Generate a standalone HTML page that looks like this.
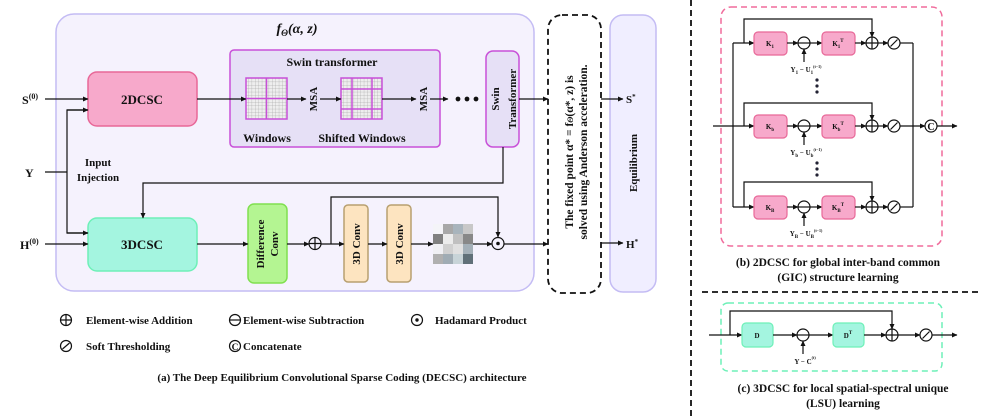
<!DOCTYPE html>
<html><head><meta charset="utf-8"><style>
html,body{margin:0;padding:0;background:#fff;}
svg{display:block;}
text{font-family:"Liberation Serif",serif;font-weight:bold;fill:#111;}
</style></head><body>
<svg width="997" height="419" viewBox="0 0 997 419" xmlns="http://www.w3.org/2000/svg">
<defs>
<marker id="a" markerWidth="6" markerHeight="6" refX="5" refY="3" orient="auto" markerUnits="userSpaceOnUse"><path d="M0,0.5 L5.5,3 L0,5.5 z" fill="#111"/></marker>
<pattern id="g" width="3.4" height="3.4" patternUnits="userSpaceOnUse"><rect width="3.4" height="3.4" fill="#eee"/><path d="M0,0 H3.4 M0,0 V3.4" stroke="#999" stroke-width="0.5"/></pattern>
</defs>
<g stroke="#111" stroke-width="1.2" fill="none">
<rect x="56" y="14" width="478" height="277" rx="18" fill="#f5f2fd" stroke="#c4bcf4" stroke-width="1.5"/>
<rect x="548" y="15" width="53" height="278" rx="14" stroke-dasharray="6,4" stroke-width="1.8"/>
<rect x="610" y="15" width="46" height="277" rx="13" fill="#f0eeff" stroke="#c4bcf4" stroke-width="1.5"/>
<line x1="691" y1="0" x2="691" y2="419" stroke-dasharray="6,4" stroke-width="1.8"/>
<line x1="702" y1="292" x2="982" y2="292" stroke-dasharray="6,4" stroke-width="1.8"/>

<rect x="88" y="72" width="109" height="54" rx="9" fill="#f7a9cb" stroke="#e86898" stroke-width="1.5"/>
<rect x="88" y="218" width="109" height="53" rx="9" fill="#a4f5e0" stroke="#6ef0b8" stroke-width="1.5"/>
<rect x="230" y="50" width="210" height="97" rx="4" fill="#e6e0f6" stroke="#c850d8" stroke-width="1.5"/>
<rect x="486" y="51" width="33" height="96" rx="7" fill="#e6e0f6" stroke="#c850d8" stroke-width="1.5"/>
<rect x="248" y="204" width="39" height="79" rx="6" fill="#b4f592" stroke="#80e050" stroke-width="1.5"/>
<rect x="344" y="205" width="24" height="77" rx="4" fill="#fde4c0" stroke="#b8a070" stroke-width="1.5"/>
<rect x="387" y="205" width="24" height="77" rx="4" fill="#fde4c0" stroke="#b8a070" stroke-width="1.5"/>

<rect x="246" y="78" width="41" height="41" fill="url(#g)" stroke="#c850d8" stroke-width="1.5"/>
<path d="M266.5,78 V119 M246,98.5 H287" stroke="#c850d8" stroke-width="1.5"/>
<rect x="341" y="78" width="41" height="41" fill="url(#g)" stroke="#c850d8" stroke-width="1.5"/>
<path d="M352,78 V119 M372,78 V119 M341,89 H382 M341,109 H382" stroke="#c850d8" stroke-width="1.5"/>

<g stroke="none">
<rect x="433" y="224" width="10" height="10" fill="#f4f4f8"/><rect x="443" y="224" width="10" height="10" fill="#a8a8a8"/><rect x="453" y="224" width="10" height="10" fill="#a8b4bc"/><rect x="463" y="224" width="10" height="10" fill="#c8c8c8"/>
<rect x="433" y="234" width="10" height="10" fill="#808080"/><rect x="443" y="234" width="10" height="10" fill="#ececec"/><rect x="453" y="234" width="10" height="10" fill="#c0c0c0"/><rect x="463" y="234" width="10" height="10" fill="#888"/>
<rect x="433" y="244" width="10" height="10" fill="#f0f0f4"/><rect x="443" y="244" width="10" height="10" fill="#d0d0d0"/><rect x="453" y="244" width="10" height="10" fill="#e0e0e0"/><rect x="463" y="244" width="10" height="10" fill="#a4b0b8"/>
<rect x="433" y="254" width="10" height="10" fill="#b0b0b0"/><rect x="443" y="254" width="10" height="10" fill="#a0acb4"/><rect x="453" y="254" width="10" height="10" fill="#c8d4d8"/><rect x="463" y="254" width="10" height="10" fill="#607078"/>
</g>

<line x1="45" y1="99" x2="88" y2="99" marker-end="url(#a)"/>
<line x1="45" y1="172" x2="67" y2="172"/>
<path d="M88,110 H67 V233 H88" />
<line x1="67" y1="110" x2="88" y2="110" marker-end="url(#a)"/>
<line x1="67" y1="233" x2="88" y2="233" marker-end="url(#a)"/>
<line x1="45" y1="244" x2="88" y2="244" marker-end="url(#a)"/>
<line x1="197" y1="99" x2="246" y2="99" marker-end="url(#a)"/>
<line x1="287" y1="99" x2="306" y2="99" marker-end="url(#a)"/>
<line x1="320" y1="99" x2="341" y2="99" marker-end="url(#a)"/>
<line x1="382" y1="99" x2="416" y2="99" marker-end="url(#a)"/>
<line x1="430" y1="99" x2="448" y2="99" marker-end="url(#a)"/>
<circle cx="458" cy="99" r="1.8" fill="#111"/><circle cx="467" cy="99" r="1.8" fill="#111"/><circle cx="476" cy="99" r="1.8" fill="#111"/>
<line x1="519" y1="99" x2="548" y2="99" marker-end="url(#a)"/>
<path d="M503,147 V183 H143 V218" marker-end="url(#a)"/>
<line x1="197" y1="244" x2="248" y2="244" marker-end="url(#a)"/>
<line x1="287" y1="244" x2="309" y2="244" marker-end="url(#a)"/>
<circle cx="315" cy="243.5" r="6"/><path d="M309,243.5 H321 M315,237.5 V249.5"/>
<line x1="321" y1="244" x2="344" y2="244" marker-end="url(#a)"/>
<path d="M331,244 V197 H498 V237" marker-end="url(#a)"/>
<line x1="368" y1="244" x2="387" y2="244" marker-end="url(#a)"/>
<line x1="411" y1="244" x2="433" y2="244" marker-end="url(#a)"/>
<line x1="473" y1="244" x2="492" y2="244" marker-end="url(#a)"/>
<circle cx="498" cy="243.5" r="6"/><circle cx="498" cy="243.5" r="1.2" fill="#111"/>
<line x1="504" y1="244" x2="548" y2="244" marker-end="url(#a)"/>
<line x1="601" y1="99" x2="623" y2="99" marker-end="url(#a)"/>
<line x1="601" y1="243" x2="623" y2="243" marker-end="url(#a)"/>

<circle cx="66" cy="320" r="5.5"/><path d="M60.5,320 H71.5 M66,314.5 V325.5"/>
<circle cx="235" cy="320" r="5.5"/><path d="M229.5,320 H240.5"/>
<circle cx="417" cy="320" r="5.5"/><circle cx="417" cy="320" r="1.1" fill="#111"/>
<circle cx="66" cy="346" r="5.5"/><path d="M62.5,349 L66,346 L69.5,343" />
<circle cx="235" cy="346" r="5.5"/>

<rect x="721" y="7" width="221" height="239" rx="10" stroke="#f06c9c" stroke-dasharray="6,4" stroke-width="1.5"/>
<path d="M713,126 H733 M733,43 V207 M913,43 V207"/>
<path d="M733,43 H754" marker-end="url(#a)"/>
<path d="M744,43 V19 H872 V37" marker-end="url(#a)"/>
<rect x="754" y="32" width="33" height="23" rx="4" fill="#f7a9cb" stroke="#e86898"/>
<line x1="787" y1="43" x2="798" y2="43" marker-end="url(#a)"/>
<circle cx="804" cy="43" r="6"/><path d="M798,43 H810"/>
<line x1="804" y1="62" x2="804" y2="49" marker-end="url(#a)"/>
<line x1="810" y1="43" x2="822" y2="43" marker-end="url(#a)"/>
<rect x="822" y="32" width="33" height="23" rx="4" fill="#f7a9cb" stroke="#e86898"/>
<line x1="855" y1="43" x2="866" y2="43" marker-end="url(#a)"/>
<circle cx="872" cy="43" r="6"/><path d="M866,43 H878 M872,37 V49"/>
<line x1="878" y1="43" x2="888" y2="43" marker-end="url(#a)"/>
<circle cx="894" cy="43" r="6"/><path d="M890.5,46.5 L897.5,39.5"/>
<line x1="900" y1="43" x2="913" y2="43"/>
<path d="M733,126 H754" marker-end="url(#a)"/>
<path d="M744,126 V103 H872 V120" marker-end="url(#a)"/>
<rect x="754" y="115" width="33" height="23" rx="4" fill="#f7a9cb" stroke="#e86898"/>
<line x1="787" y1="126" x2="798" y2="126" marker-end="url(#a)"/>
<circle cx="804" cy="126" r="6"/><path d="M798,126 H810"/>
<line x1="804" y1="145" x2="804" y2="132" marker-end="url(#a)"/>
<line x1="810" y1="126" x2="822" y2="126" marker-end="url(#a)"/>
<rect x="822" y="115" width="33" height="23" rx="4" fill="#f7a9cb" stroke="#e86898"/>
<line x1="855" y1="126" x2="866" y2="126" marker-end="url(#a)"/>
<circle cx="872" cy="126" r="6"/><path d="M866,126 H878 M872,120 V132"/>
<line x1="878" y1="126" x2="888" y2="126" marker-end="url(#a)"/>
<circle cx="894" cy="126" r="6"/><path d="M890.5,129.5 L897.5,122.5"/>
<line x1="900" y1="126" x2="925" y2="126" marker-end="url(#a)"/>
<circle cx="931" cy="126" r="6"/>
<line x1="937" y1="126" x2="957" y2="126" marker-end="url(#a)"/>
<path d="M733,207 H754" marker-end="url(#a)"/>
<path d="M744,207 V182 H872 V201" marker-end="url(#a)"/>
<rect x="754" y="196" width="33" height="23" rx="4" fill="#f7a9cb" stroke="#e86898"/>
<line x1="787" y1="207" x2="798" y2="207" marker-end="url(#a)"/>
<circle cx="804" cy="207" r="6"/><path d="M798,207 H810"/>
<line x1="804" y1="226" x2="804" y2="213" marker-end="url(#a)"/>
<line x1="810" y1="207" x2="822" y2="207" marker-end="url(#a)"/>
<rect x="822" y="196" width="33" height="23" rx="4" fill="#f7a9cb" stroke="#e86898"/>
<line x1="855" y1="207" x2="866" y2="207" marker-end="url(#a)"/>
<circle cx="872" cy="207" r="6"/><path d="M866,207 H878 M872,201 V213"/>
<line x1="878" y1="207" x2="888" y2="207" marker-end="url(#a)"/>
<circle cx="894" cy="207" r="6"/><path d="M890.5,210.5 L897.5,203.5"/>
<line x1="900" y1="207" x2="913" y2="207"/>
<g fill="#223" stroke="none">
<circle cx="817" cy="80" r="1.6"/><circle cx="817" cy="86" r="1.6"/><circle cx="817" cy="92" r="1.6"/>
<circle cx="817" cy="163" r="1.6"/><circle cx="817" cy="169" r="1.6"/><circle cx="817" cy="175" r="1.6"/>
</g>

<rect x="721" y="303" width="221" height="68" rx="7" stroke="#6ef0b8" stroke-dasharray="6,4" stroke-width="1.5"/>
<path d="M709,335 H742" marker-end="url(#a)"/>
<path d="M730,335 V311 H892 V329" marker-end="url(#a)"/>
<rect x="742" y="323" width="31" height="24" rx="4" fill="#a4f5e0" stroke="#6ef0b8"/>
<line x1="773" y1="335" x2="797" y2="335" marker-end="url(#a)"/>
<circle cx="803" cy="335" r="6"/><path d="M797,335 H809"/>
<line x1="803" y1="354" x2="803" y2="341" marker-end="url(#a)"/>
<line x1="809" y1="335" x2="833" y2="335" marker-end="url(#a)"/>
<rect x="833" y="323" width="31" height="24" rx="4" fill="#a4f5e0" stroke="#6ef0b8"/>
<line x1="864" y1="335" x2="886" y2="335" marker-end="url(#a)"/>
<circle cx="892" cy="335" r="6"/><path d="M886,335 H898 M892,329 V341"/>
<line x1="898" y1="335" x2="920" y2="335" marker-end="url(#a)"/>
<circle cx="926" cy="335" r="6"/><path d="M922.5,338.5 L929.5,331.5"/>
<line x1="932" y1="335" x2="957" y2="335" marker-end="url(#a)"/>
</g>

<text x="297" y="33" font-size="14" font-style="italic" text-anchor="middle">f<tspan font-size="9" dy="3">Θ</tspan><tspan dy="-3">(α, z)</tspan></text>
<text x="142" y="104" font-size="13" text-anchor="middle">2DCSC</text>
<text x="142" y="249" font-size="13" text-anchor="middle">3DCSC</text>
<text x="332" y="66" font-size="12" text-anchor="middle">Swin transformer</text>
<text x="267" y="142" font-size="12" text-anchor="middle">Windows</text>
<text x="362" y="142" font-size="12" text-anchor="middle">Shifted Windows</text>
<text transform="translate(317,99) rotate(-90)" font-size="11" text-anchor="middle">MSA</text>
<text transform="translate(427,99) rotate(-90)" font-size="11" text-anchor="middle">MSA</text>
<text transform="translate(499,99) rotate(-90)" font-size="11" text-anchor="middle">Swin</text>
<text transform="translate(516,99) rotate(-90)" font-size="11" text-anchor="middle">Transformer</text>
<text transform="translate(264,244) rotate(-90)" font-size="11" text-anchor="middle">Difference</text>
<text transform="translate(278,244) rotate(-90)" font-size="11" text-anchor="middle">Conv</text>
<text transform="translate(360,244) rotate(-90)" font-size="11" text-anchor="middle">3D Conv</text>
<text transform="translate(403,244) rotate(-90)" font-size="11" text-anchor="middle">3D Conv</text>
<text transform="translate(573,152) rotate(-90)" font-size="11.5" text-anchor="middle">The fixed point α* = f<tspan font-size="8" font-style="italic">Θ</tspan>(α*, z) is</text>
<text transform="translate(587,152) rotate(-90)" font-size="11.5" text-anchor="middle">solved using Anderson acceleration.</text>
<text transform="translate(637,163) rotate(-90)" font-size="11" text-anchor="middle">Equilibrium</text>
<text x="22" y="104" font-size="12">S<tspan font-size="8" dy="-5">(0)</tspan></text>
<text x="25" y="177" font-size="12">Y</text>
<text x="20" y="249" font-size="12">H<tspan font-size="8" dy="-5">(0)</tspan></text>
<text x="98" y="166" font-size="11" text-anchor="middle">Input</text>
<text x="98" y="181" font-size="11" text-anchor="middle">Injection</text>
<text x="626" y="103" font-size="11">S<tspan font-size="7" dy="-4">*</tspan></text>
<text x="626" y="248" font-size="11">H<tspan font-size="7" dy="-4">*</tspan></text>

<text x="86" y="324" font-size="11">Element-wise Addition</text>
<text x="243" y="324" font-size="11">Element-wise Subtraction</text>
<text x="435" y="324" font-size="11">Hadamard Product</text>
<text x="86" y="350" font-size="11">Soft Thresholding</text>
<text x="235" y="350" font-size="9.5" text-anchor="middle">C</text>
<text x="243" y="350" font-size="11">Concatenate</text>
<text x="342" y="381" font-size="11" text-anchor="middle">(a)  The Deep Equilibrium Convolutional Sparse Coding (DECSC) architecture</text>

<g font-size="7" text-anchor="middle">
<text x="770" y="46">K<tspan font-size="5" dy="2">1</tspan></text>
<text x="838" y="46">K<tspan font-size="5" dy="2">1</tspan><tspan font-size="5" dy="-6">T</tspan></text>
<text x="770" y="129">K<tspan font-size="5" dy="2">b</tspan></text>
<text x="838" y="129">K<tspan font-size="5" dy="2">b</tspan><tspan font-size="5" dy="-6">T</tspan></text>
<text x="770" y="210">K<tspan font-size="5" dy="2">B</tspan></text>
<text x="838" y="210">K<tspan font-size="5" dy="2">B</tspan><tspan font-size="5" dy="-6">T</tspan></text>
<text x="806" y="72">Y<tspan font-size="5" dy="2">1</tspan><tspan dy="-2"> − U</tspan><tspan font-size="5" dy="2">1</tspan><tspan font-size="4" dy="-6">(t−1)</tspan></text>
<text x="806" y="155">Y<tspan font-size="5" dy="2">b</tspan><tspan dy="-2"> − U</tspan><tspan font-size="5" dy="2">b</tspan><tspan font-size="4" dy="-6">(t−1)</tspan></text>
<text x="806" y="236">Y<tspan font-size="5" dy="2">B</tspan><tspan dy="-2"> − U</tspan><tspan font-size="5" dy="2">B</tspan><tspan font-size="4" dy="-6">(t−1)</tspan></text>
<text x="757" y="338">D</text>
<text x="848" y="338">D<tspan font-size="5" dy="-4">T</tspan></text>
<text x="805" y="364">Y − C<tspan font-size="4" dy="-5">(t)</tspan></text>
</g>
<text x="931" y="130" font-size="10" text-anchor="middle">C</text>
<text x="838" y="266" font-size="11.5" text-anchor="middle">(b) 2DCSC for global inter-band common</text>
<text x="838" y="281" font-size="11.5" text-anchor="middle">(GIC) structure learning</text>
<text x="843" y="392" font-size="11.5" text-anchor="middle">(c) 3DCSC for local spatial-spectral unique</text>
<text x="843" y="407" font-size="11.5" text-anchor="middle">(LSU) learning</text>
</svg>
</body></html>
